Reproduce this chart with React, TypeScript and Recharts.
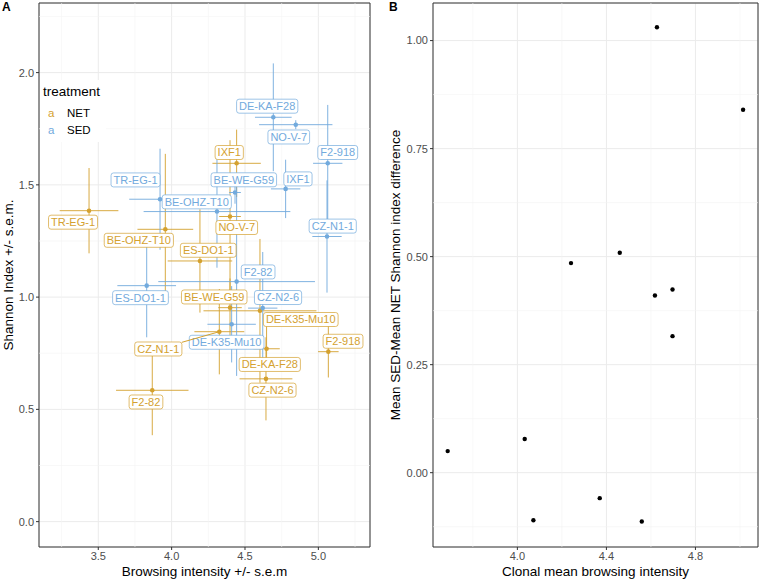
import React from 'react';
import {
  ScatterChart,
  Scatter,
  XAxis,
  YAxis,
  CartesianGrid,
  ErrorBar,
  ReferenceLine,
  ReferenceArea,
  Label,
} from 'recharts';

const FONT = '"Liberation Sans", Arial, Helvetica, sans-serif';
const GOLD = '#D4A12F';
const BLUE = '#72AADD';
const INK = '#4D4D4D';

// clone names, same order in every array below
const CLONES = [
  'TR-EG-1', 'BE-OHZ-T10', 'ES-DO1-1', 'IXF1', 'BE-WE-G59', 'NO-V-7',
  'F2-82', 'CZ-N2-6', 'CZ-N1-1', 'DE-K35-Mu10', 'DE-KA-F28', 'F2-918',
];

// panel A, NET treatment
const NET_X = [3.437, 3.957, 4.193, 4.443, 4.398, 4.398, 3.868, 4.643, 4.325, 4.602, 4.647, 5.068];
const NET_Y = [1.385, 1.302, 1.161, 1.596, 0.953, 1.359, 0.585, 0.636, 0.846, 0.939, 0.77, 0.757];
const NET_XSEM = [0.2, 0.19, 0.22, 0.165, 0.08, 0.074, 0.247, 0.18, 0.17, 0.385, 0.09, 0.07];
const NET_YSEM = [0.19, 0.336, 0.23, 0.15, 0.13, 0.34, 0.2, 0.185, 0.19, 0.32, 0.1, 0.115];

// panel A, SED treatment
const SED_X = [3.921, 4.309, 3.83, 4.777, 4.432, 4.846, 4.443, 4.621, 5.059, 4.409, 4.693, 5.064];
const SED_Y = [1.436, 1.381, 1.051, 1.482, 1.466, 1.768, 1.069, 0.951, 1.27, 0.879, 1.801, 1.596];
const SED_XSEM = [0.21, 0.5, 0.2, 0.1, 0.04, 0.25, 0.534, 0.1, 0.1, 0.165, 0.125, 0.1];
const SED_YSEM = [0.225, 0.25, 0.23, 0.13, 0.05, 0.02, 0.42, 0.25, 0.25, 0.17, 0.24, 0.26];

// panel B
const CLONAL_BROWSING = [3.687, 4.033, 4.072, 4.559, 4.46, 4.618, 4.241, 4.697, 4.697, 4.37, 4.627, 5.014];
const SHANNON_DIFF = [0.05, 0.078, -0.11, -0.113, 0.509, 0.41, 0.485, 0.316, 0.424, -0.059, 1.031, 0.84];

// axes
const A_XDOM = [3.096, 5.352];
const A_YDOM = [-0.113, 2.31];
const A_XTICKS = [3.5, 4.0, 4.5, 5.0];
const A_YTICKS = [0, 0.5, 1.0, 1.5, 2.0];
const A_XMINOR = [3.25, 3.75, 4.25, 4.75, 5.25];
const A_YMINOR = [0.25, 0.75, 1.25, 1.75, 2.25];

const B_XDOM = [3.621, 5.081];
const B_YDOM = [-0.172, 1.087];
const B_XTICKS = [4.0, 4.4, 4.8];
const B_YTICKS = [0, 0.25, 0.5, 0.75, 1.0];
const B_XMINOR = [3.8, 4.2, 4.6, 5.0];
const B_YMINOR = [-0.125, 0.125, 0.375, 0.625, 0.875];

// repelled label placement, pixel nudge from each point
const NET_NUDGE: Record<string, [number, number]> = {
  'TR-EG-1': [-16, 11.5],
  'BE-OHZ-T10': [-26.5, 11],
  'ES-DO1-1': [8.3, -10.7],
  'IXF1': [-7.4, -10.8],
  'BE-WE-G59': [-15.8, -10.7],
  'NO-V-7': [6.7, 11],
  'F2-82': [-6.3, 11.7],
  'CZ-N2-6': [6.5, 11.3],
  'CZ-N1-1': [-61, 17.3],
  'DE-K35-Mu10': [40.8, 8.7],
  'DE-KA-F28': [3.2, 15.7],
  'F2-918': [14.7, -10.4],
};
const SED_NUDGE: Record<string, [number, number]> = {
  'TR-EG-1': [-24.5, -19.3],
  'BE-OHZ-T10': [-20.2, -9.7],
  'ES-DO1-1': [-6.2, 12],
  'IXF1': [12.3, -10],
  'BE-WE-G59': [8.8, -12.7],
  'NO-V-7': [-7, 12.3],
  'F2-82': [21.5, -9.7],
  'CZ-N2-6': [15.3, -10.6],
  'CZ-N1-1': [5.7, -10.4],
  'DE-K35-Mu10': [-5, 18],
  'DE-KA-F28': [-6.1, -11.1],
  'F2-918': [10, -10.8],
};

const netData = CLONES.map((clone, i) => ({ clone, x: NET_X[i], y: NET_Y[i], xe: NET_XSEM[i], ye: NET_YSEM[i] }));
const sedData = CLONES.map((clone, i) => ({ clone, x: SED_X[i], y: SED_Y[i], xe: SED_XSEM[i], ye: SED_YSEM[i] }));
const diffData = CLONES.map((clone, i) => ({ clone, x: CLONAL_BROWSING[i], y: SHANNON_DIFF[i] }));

const LABEL_SIZE = 11;
const LABEL_H = 14;
let ctx: CanvasRenderingContext2D | null = null;
function textWidth(s: string) {
  if (!ctx && typeof document !== 'undefined') ctx = document.createElement('canvas').getContext('2d');
  if (!ctx) return s.length * LABEL_SIZE * 0.6;
  ctx.font = `${LABEL_SIZE}px ${FONT}`;
  return ctx.measureText(s).width;
}

const dot = (color: string, r = 2.3) => (p: any) => <circle cx={p.cx} cy={p.cy} r={r} fill={color} />;

const repelLabel = (color: string, nudge: Record<string, [number, number]>) => (p: any) => {
  const { cx, cy, payload } = p;
  const [dx, dy] = nudge[payload.clone] ?? [0, -12];
  const w = textWidth(payload.clone) + 5;
  const lx = cx + dx;
  const ly = cy + dy;
  return (
    <g>
      <rect x={lx - w / 2} y={ly - LABEL_H / 2} width={w} height={LABEL_H} rx={2.5} fill="#fff" stroke={color} strokeWidth={0.7} />
      <text x={lx} y={ly} dy="0.36em" textAnchor="middle" fontSize={LABEL_SIZE} fill={color} fontFamily={FONT}>
        {payload.clone}
      </text>
    </g>
  );
};

// ggrepel segment from a far-moved label back to its point, drawn over the labels
const repelSegment = (color: string, nudge: Record<string, [number, number]>) => (p: any) => {
  const { cx, cy, payload } = p;
  const [dx, dy] = nudge[payload.clone] ?? [0, -12];
  if (Math.hypot(dx, dy) < 50) return <g />;
  const w = textWidth(payload.clone) + 5;
  const t = Math.min(w / 2 / Math.abs(dx || 1e-6), LABEL_H / 2 / Math.abs(dy || 1e-6));
  return <line x1={cx} y1={cy} x2={cx + dx - dx * t} y2={cy + dy - dy * t} stroke={color} strokeWidth={1} />;
};

const tickStyle = { fill: INK, fontSize: 11, fontFamily: FONT };
const titleStyle = { fill: '#000', fontSize: 13.5, fontFamily: FONT, textAnchor: 'middle' as const };

function PanelA() {
  return (
    <ScatterChart width={380} height={580} margin={{ top: 3, right: 10, bottom: 0, left: 0 }}>
      <CartesianGrid stroke="#EBEBEB" strokeWidth={1} />
      {A_XMINOR.map((v) => <ReferenceLine key={`ax${v}`} x={v} stroke="#F4F4F4" strokeWidth={0.6} />)}
      {A_YMINOR.map((v) => <ReferenceLine key={`ay${v}`} y={v} stroke="#F4F4F4" strokeWidth={0.6} />)}
      <XAxis
        type="number" dataKey="x" domain={A_XDOM} ticks={A_XTICKS} allowDataOverflow height={33}
        axisLine={false} tickLine={{ stroke: '#333' }} tickSize={3} tickMargin={2}
        tick={tickStyle} tickFormatter={(v: number) => v.toFixed(1)}
      >
        <Label value="Browsing intensity +/- s.e.m" position="insideBottom" offset={4} style={titleStyle} />
      </XAxis>
      <YAxis
        type="number" dataKey="y" domain={A_YDOM} ticks={A_YTICKS} allowDataOverflow width={39}
        axisLine={false} tickLine={{ stroke: '#333' }} tickSize={3} tickMargin={2}
        tick={tickStyle} tickFormatter={(v: number) => v.toFixed(1)}
      >
        <Label value="Shannon Index +/- s.e.m." angle={-90} position="insideLeft" offset={8} style={titleStyle} />
      </YAxis>
      <Scatter data={netData} fill={GOLD} shape={dot(GOLD)} isAnimationActive={false}>
        <ErrorBar dataKey="xe" direction="x" width={0} stroke={GOLD} strokeWidth={1} strokeOpacity={0.9} />
        <ErrorBar dataKey="ye" direction="y" width={0} stroke={GOLD} strokeWidth={1} strokeOpacity={0.9} />
      </Scatter>
      <Scatter data={sedData} fill={BLUE} shape={dot(BLUE)} isAnimationActive={false}>
        <ErrorBar dataKey="xe" direction="x" width={0} stroke={BLUE} strokeWidth={1} strokeOpacity={0.9} />
        <ErrorBar dataKey="ye" direction="y" width={0} stroke={BLUE} strokeWidth={1} strokeOpacity={0.9} />
      </Scatter>
      <Scatter data={netData} shape={repelLabel(GOLD, NET_NUDGE)} isAnimationActive={false} />
      <Scatter data={sedData} shape={repelLabel(BLUE, SED_NUDGE)} isAnimationActive={false} />
      <Scatter data={netData} shape={repelSegment(GOLD, NET_NUDGE)} isAnimationActive={false} />
      <ReferenceArea x1={A_XDOM[0]} x2={A_XDOM[1]} y1={A_YDOM[0]} y2={A_YDOM[1]} fill="none" fillOpacity={0} stroke="#333" strokeWidth={1} />
    </ScatterChart>
  );
}

function PanelB() {
  return (
    <ScatterChart width={380} height={580} margin={{ top: 3, right: 2, bottom: 0, left: 0 }}>
      <CartesianGrid stroke="#EBEBEB" strokeWidth={1} />
      {B_XMINOR.map((v) => <ReferenceLine key={`bx${v}`} x={v} stroke="#F4F4F4" strokeWidth={0.6} />)}
      {B_YMINOR.map((v) => <ReferenceLine key={`by${v}`} y={v} stroke="#F4F4F4" strokeWidth={0.6} />)}
      <XAxis
        type="number" dataKey="x" domain={B_XDOM} ticks={B_XTICKS} allowDataOverflow height={33}
        axisLine={false} tickLine={{ stroke: '#333' }} tickSize={3} tickMargin={2}
        tick={tickStyle} tickFormatter={(v: number) => v.toFixed(1)}
      >
        <Label value="Clonal mean browsing intensity" position="insideBottom" offset={4} style={titleStyle} />
      </XAxis>
      <YAxis
        type="number" dataKey="y" domain={B_YDOM} ticks={B_YTICKS} allowDataOverflow width={53}
        axisLine={false} tickLine={{ stroke: '#333' }} tickSize={3} tickMargin={2}
        tick={tickStyle} tickFormatter={(v: number) => v.toFixed(2)}
      >
        <Label value="Mean SED-Mean NET Shannon index difference" angle={-90} position="insideLeft" offset={15} style={titleStyle} />
      </YAxis>
      <Scatter data={diffData} fill="#000" shape={dot('#000', 2.2)} isAnimationActive={false} />
      <ReferenceArea x1={B_XDOM[0]} x2={B_XDOM[1]} y1={B_YDOM[0]} y2={B_YDOM[1]} fill="none" fillOpacity={0} stroke="#333" strokeWidth={1} />
    </ScatterChart>
  );
}

export default function App() {
  return (
    <div style={{ position: 'absolute', left: 0, top: 0, width: 760, height: 580, background: '#fff', fontFamily: FONT }}>
      <div style={{ position: 'absolute', left: 0, top: 0 }}><PanelA /></div>
      <div style={{ position: 'absolute', left: 380, top: 0 }}><PanelB /></div>

      {/* legend, drawn inside panel A like ggplot's legend.position */}
      <div style={{ position: 'absolute', left: 40, top: 80, width: 66, height: 62, background: '#fff', color: '#000' }}>
        <div style={{ position: 'absolute', left: 3, top: 4, fontSize: 13.5, lineHeight: '16px' }}>treatment</div>
        {[['NET', GOLD], ['SED', BLUE]].map(([name, c], i) => (
          <div key={name} style={{ position: 'absolute', left: 8, top: 26 + i * 16.7, fontSize: 11.5, lineHeight: '14px', whiteSpace: 'nowrap' }}>
            <span style={{ color: c, display: 'inline-block', width: 19 }}>a</span>
            <span>{name}</span>
          </div>
        ))}
      </div>

      <div style={{ position: 'absolute', left: 2, top: 0, fontSize: 12, fontWeight: 'bold', lineHeight: '14px' }}>A</div>
      <div style={{ position: 'absolute', left: 389, top: 0, fontSize: 12, fontWeight: 'bold', lineHeight: '14px' }}>B</div>
    </div>
  );
}
